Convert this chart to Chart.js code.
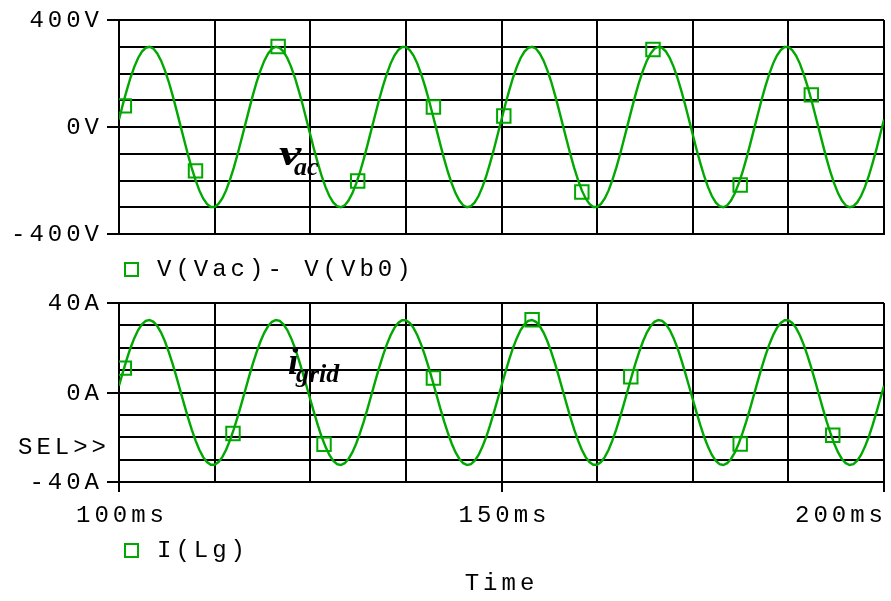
<!DOCTYPE html>
<html><head><meta charset="utf-8">
<script src="https://cdn.jsdelivr.net/npm/chart.js@4.4.1/dist/chart.umd.min.js"></script>
<style>
html,body{margin:0;padding:0;background:#fff;overflow:hidden}
#wrap{position:relative;width:891px;height:601px;background:#fff}
canvas{position:absolute;left:0}
</style></head><body>
<div id="wrap">
<canvas id="c1" width="891" height="290" style="top:0;width:891px;height:290px"></canvas>
<canvas id="c2" width="891" height="311" style="top:290px;width:891px;height:311px"></canvas>
</div>
<script>
// ---- data ----
const times = [
100,100.5,101,101.5,102,102.5,103,103.5,104,104.5,
105,105.5,106,106.5,107,107.5,108,108.5,109,109.5,
110,110.5,111,111.5,112,112.5,113,113.5,114,114.5,
115,115.5,116,116.5,117,117.5,118,118.5,119,119.5,
120,120.5,121,121.5,122,122.5,123,123.5,124,124.5,
125,125.5,126,126.5,127,127.5,128,128.5,129,129.5,
130,130.5,131,131.5,132,132.5,133,133.5,134,134.5,
135,135.5,136,136.5,137,137.5,138,138.5,139,139.5,
140,140.5,141,141.5,142,142.5,143,143.5,144,144.5,
145,145.5,146,146.5,147,147.5,148,148.5,149,149.5,
150,150.5,151,151.5,152,152.5,153,153.5,154,154.5,
155,155.5,156,156.5,157,157.5,158,158.5,159,159.5,
160,160.5,161,161.5,162,162.5,163,163.5,164,164.5,
165,165.5,166,166.5,167,167.5,168,168.5,169,169.5,
170,170.5,171,171.5,172,172.5,173,173.5,174,174.5,
175,175.5,176,176.5,177,177.5,178,178.5,179,179.5,
180,180.5,181,181.5,182,182.5,183,183.5,184,184.5,
185,185.5,186,186.5,187,187.5,188,188.5,189,189.5,
190,190.5,191,191.5,192,192.5,193,193.5,194,194.5,
195,195.5,196,196.5,197,197.5,198,198.5,199,199.5,
200];

const vacVolts = [
28,84,136,184,225,258,282,296,300,293,275,248,212,169,119,65,9,
-47,-102,-153,-198,-237,-267,-288,-299,-299,-288,-267,-237,-198,-153,-102,-47,
9,65,119,169,212,248,275,293,300,296,282,258,225,184,136,84,28,
-28,-84,-136,-184,-225,-258,-282,-296,-300,-293,-275,-248,-212,-169,-119,-65,-9,
47,102,153,198,237,267,288,299,299,288,267,237,198,153,102,47,
-9,-65,-119,-169,-212,-248,-275,-293,-300,-296,-282,-258,-225,-184,-136,-84,-28,
28,84,136,184,225,258,282,296,300,293,275,248,212,169,119,65,9,
-47,-102,-153,-198,-237,-267,-288,-299,-299,-288,-267,-237,-198,-153,-102,-47,
9,65,119,169,212,248,275,293,300,296,282,258,225,184,136,84,28,
-28,-84,-136,-184,-225,-258,-282,-296,-300,-293,-275,-248,-212,-169,-119,-65,-9,
47,102,153,198,237,267,288,299,299,288,267,237,198,153,102,47,
-9,-65,-119,-169,-212,-248,-275,-293,-300,-296,-282,-258,-225,-184,-136,-84,-28,
28];

const gridAmps = [
3.0,9.0,14.7,19.9,24.3,27.9,30.5,32.0,32.4,31.6,29.7,26.8,22.9,18.2,12.9,7.1,1.0,
-5.1,-11.0,-16.5,-21.4,-25.6,-28.9,-31.1,-32.3,-32.3,-31.1,-28.9,-25.6,-21.4,-16.5,-11.0,-5.1,
1.0,7.1,12.9,18.2,22.9,26.8,29.7,31.6,32.4,32.0,30.5,27.9,24.3,19.9,14.7,9.0,3.0,
-3.0,-9.0,-14.7,-19.9,-24.3,-27.9,-30.5,-32.0,-32.4,-31.6,-29.7,-26.8,-22.9,-18.2,-12.9,-7.1,-1.0,
5.1,11.0,16.5,21.4,25.6,28.9,31.1,32.3,32.3,31.1,28.9,25.6,21.4,16.5,11.0,5.1,
-1.0,-7.1,-12.9,-18.2,-22.9,-26.8,-29.7,-31.6,-32.4,-32.0,-30.5,-27.9,-24.3,-19.9,-14.7,-9.0,-3.0,
3.0,9.0,14.7,19.9,24.3,27.9,30.5,32.0,32.4,31.6,29.7,26.8,22.9,18.2,12.9,7.1,1.0,
-5.1,-11.0,-16.5,-21.4,-25.6,-28.9,-31.1,-32.3,-32.3,-31.1,-28.9,-25.6,-21.4,-16.5,-11.0,-5.1,
1.0,7.1,12.9,18.2,22.9,26.8,29.7,31.6,32.4,32.0,30.5,27.9,24.3,19.9,14.7,9.0,3.0,
-3.0,-9.0,-14.7,-19.9,-24.3,-27.9,-30.5,-32.0,-32.4,-31.6,-29.7,-26.8,-22.9,-18.2,-12.9,-7.1,-1.0,
5.1,11.0,16.5,21.4,25.6,28.9,31.1,32.3,32.3,31.1,28.9,25.6,21.4,16.5,11.0,5.1,
-1.0,-7.1,-12.9,-18.2,-22.9,-26.8,-29.7,-31.6,-32.4,-32.0,-30.5,-27.9,-24.3,-19.9,-14.7,-9.0,-3.0,
3.0];

const vMarkTimes = [100.7,110.0,120.8,131.2,141.1,150.3,160.5,169.8,181.2,190.5];
const vMarkVolts = [79,-164,301,-202,75,41,-243,290,-217,120];
const iMarkTimes = [100.7,114.9,126.8,141.1,154.0,166.9,181.2,193.3];
const iMarkAmps  = [10.9,-18.3,-23.1,6.5,32.5,7.0,-23.0,-19.1];

const timeTicks = [100,150,200];
const timeTickLabels = ['100ms','150ms','200ms'];
const vTicks = [400,0,-400];
const vTickLabels = ['400V','0V','-400V'];
const iTicks = [40,0,-40];
const iTickLabels = ['40A','0A','-40A'];
const vLegend = 'V(Vac)- V(Vb0)';
const iLegend = 'I(Lg)';
const xTitle = 'Time';

// ---- styling ----
const GREEN = '#00a800';
const MONO = "'Liberation Mono', 'Courier New', monospace";
const SERIF = "'Liberation Serif', 'Times New Roman', serif";
const SP = '4px';

const pairs = (xs, ys) => xs.map((x, i) => ({x, y: ys[i]}));
const clear = 'rgba(0,0,0,0)';

// grid positions every `step` between min and max
function gridTicks(min, max, step) {
  const out = [];
  for (let v = min; v <= max + 1e-9; v += step) out.push({value: v});
  return out;
}

const spacing = { id: 'spacing', beforeDraw(chart) { chart.ctx.letterSpacing = SP; } };

function yScale(min, max, step, ticks, labels) {
  return {
    min, max,
    afterBuildTicks(s) { s.ticks = gridTicks(min, max, step); },
    ticks: {
      autoSkip: false, padding: 4, color: '#000', labelOffset: 1,
      font: {family: MONO, size: 24},
      callback: v => { const k = ticks.indexOf(v); return k >= 0 ? labels[k] : ''; }
    },
    grid: {
      color: '#000', lineWidth: 2, tickLength: 12, tickWidth: 2,
      tickColor: c => (c.tick && ticks.includes(c.tick.value)) ? '#000' : clear
    },
    border: {color: '#000', width: 2},
    afterFit(s) { s.width = 119; s.paddingTop = 0; s.paddingBottom = 0; }
  };
}

function seriesSets(xs, ys, mx, my) {
  return [
    {data: pairs(xs, ys), borderColor: GREEN, borderWidth: 2.4, pointRadius: 0, tension: 0, fill: false},
    {data: pairs(mx, my), showLine: false, pointStyle: 'rect', pointRadius: 9.5,
     pointBorderWidth: 2, borderColor: GREEN, pointBorderColor: GREEN, backgroundColor: clear, pointBackgroundColor: clear}
  ];
}

const common = {
  responsive: false, animation: false, devicePixelRatio: 1,
  plugins: {legend: {display: false}, tooltip: {enabled: false}}
};

new Chart(document.getElementById('c1'), {
  type: 'line',
  data: {datasets: seriesSets(times, vacVolts, vMarkTimes, vMarkVolts)},
  options: Object.assign({}, common, {
    layout: {autoPadding: false, padding: {left: 0, right: 7, top: 20, bottom: 0}},
    scales: {
      x: {
        type: 'linear', min: 100, max: 200,
        afterBuildTicks(s) { s.ticks = gridTicks(100, 200, 12.5); },
        ticks: {display: false, autoSkip: false},
        grid: {color: '#000', lineWidth: 2, drawTicks: false},
        border: {color: '#000', width: 2},
        afterFit(s) { s.height = 56; s.paddingLeft = 0; s.paddingRight = 0; }
      },
      y: yScale(-400, 400, 100, vTicks, vTickLabels)
    }
  }),
  plugins: [spacing, {
    id: 'notes1',
    afterDraw(chart) {
      const ctx = chart.ctx;
      ctx.save();
      ctx.letterSpacing = SP;
      ctx.fillStyle = '#000';
      ctx.font = '24px ' + MONO;
      ctx.textBaseline = 'middle'; ctx.textAlign = 'left';
      ctx.fillText(vLegend, 157, 270);
      ctx.strokeStyle = GREEN; ctx.lineWidth = 2;
      ctx.strokeRect(125, 263, 13, 13);
      ctx.letterSpacing = '0px';
      ctx.textBaseline = 'alphabetic';
      ctx.save();
      ctx.translate(279, 165); ctx.scale(1.4, 1);
      ctx.font = 'italic bold 36px ' + SERIF;
      ctx.fillText('v', 0, 0);
      ctx.restore();
      ctx.font = 'italic bold 26px ' + SERIF;
      ctx.fillText('ac', 294, 175);
      ctx.restore();
    }
  }]
});

new Chart(document.getElementById('c2'), {
  type: 'line',
  data: {datasets: seriesSets(times, gridAmps, iMarkTimes, iMarkAmps)},
  options: Object.assign({}, common, {
    layout: {autoPadding: false, padding: {left: 0, right: 7, top: 13, bottom: 0}},
    scales: {
      x: {
        type: 'linear', min: 100, max: 200,
        afterBuildTicks(s) { s.ticks = gridTicks(100, 200, 12.5); },
        ticks: {
          autoSkip: false, maxRotation: 0, minRotation: 0, labelOffset: 3,
          padding: 9, color: '#000', font: {family: MONO, size: 24},
          callback: v => {
            const k = timeTicks.indexOf(v);
            if (k < 0) return '';
            return k === timeTicks.length - 1 ? timeTickLabels[k] + '     ' : timeTickLabels[k];
          }
        },
        grid: {
          color: '#000', lineWidth: 2, tickLength: 10, tickWidth: 2,
          tickColor: c => (c.tick && timeTicks.includes(c.tick.value)) ? '#000' : clear
        },
        border: {color: '#000', width: 2},
        title: {display: true, text: xTitle, color: '#000', font: {family: MONO, size: 24}, padding: {top: 0, bottom: 3}},
        afterFit(s) { s.height = 119; s.paddingLeft = 0; s.paddingRight = 0; }
      },
      y: yScale(-40, 40, 10, iTicks, iTickLabels)
    }
  }),
  plugins: [spacing, {
    id: 'notes2',
    afterDraw(chart) {
      const ctx = chart.ctx;
      ctx.save();
      ctx.letterSpacing = SP;
      ctx.fillStyle = '#000';
      ctx.font = '24px ' + MONO;
      ctx.textBaseline = 'middle';
      ctx.textAlign = 'right';
      ctx.fillText('SEL>>', 110, 158);
      ctx.textAlign = 'left';
      ctx.fillText(iLegend, 157, 261);
      ctx.strokeStyle = GREEN; ctx.lineWidth = 2;
      ctx.strokeRect(125, 254, 13, 13);
      ctx.letterSpacing = '0px';
      ctx.textBaseline = 'alphabetic';
      ctx.font = 'italic bold 37px ' + SERIF;
      ctx.fillText('i', 288, 84);
      ctx.font = 'italic bold 26px ' + SERIF;
      ctx.fillText('grid', 296, 92);
      ctx.restore();
    }
  }]
});
</script>
</body></html>
